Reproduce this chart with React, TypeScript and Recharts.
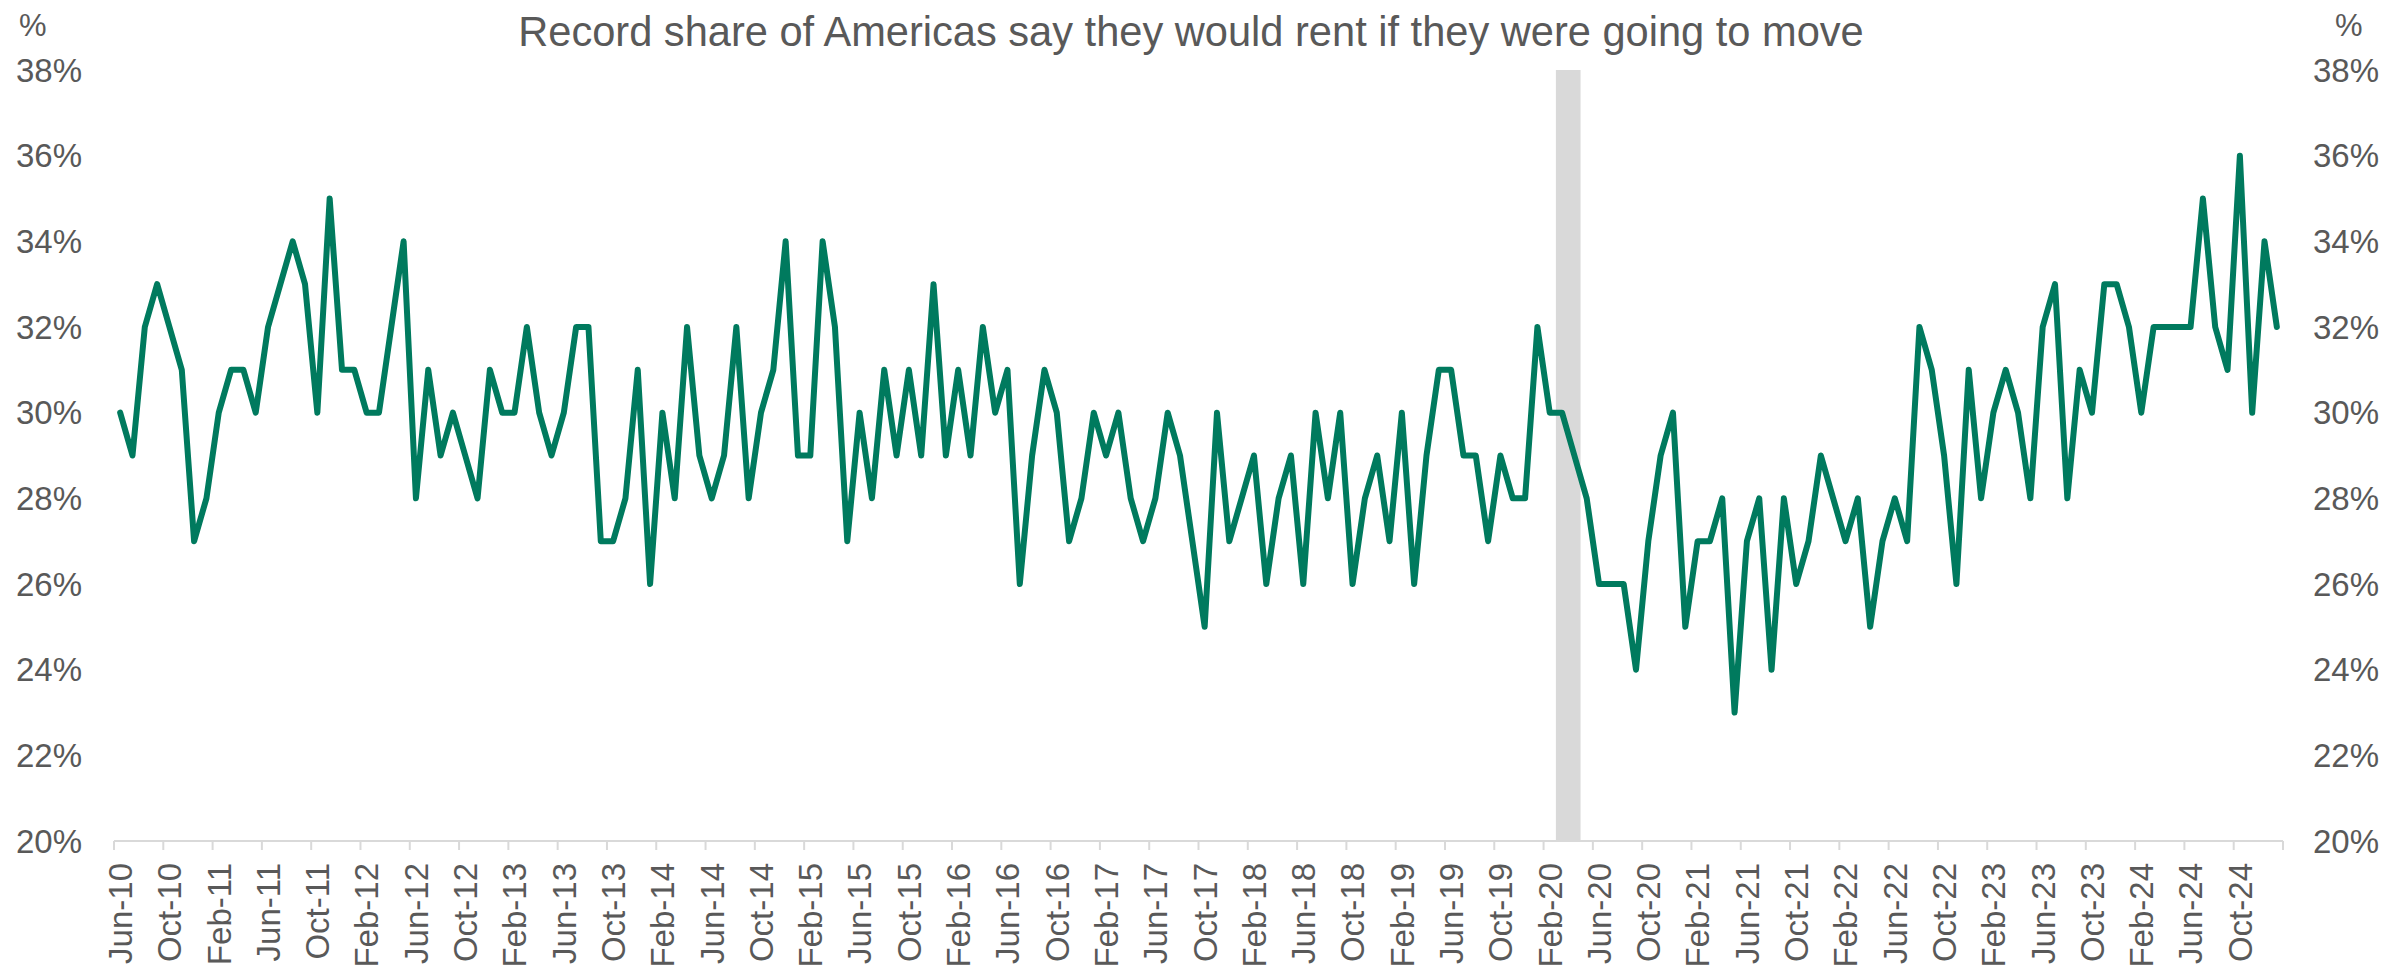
import React from "react";
import { LineChart, Line, XAxis, YAxis, ReferenceArea } from "recharts";

// survey share (%) saying they'd rent if moving, monthly
const MONTHS = ["Jan", "Feb", "Mar", "Apr", "May", "Jun", "Jul", "Aug", "Sep", "Oct", "Nov", "Dec"];

const y2010 = [30, 29, 32, 33, 32, 31, 27]; // Jun-Dec
const y2011 = [28, 30, 31, 31, 30, 32, 33, 34, 33, 30, 35, 31];
const y2012 = [31, 30, 30, 32, 34, 28, 31, 29, 30, 29, 28, 31];
const y2013 = [30, 30, 32, 30, 29, 30, 32, 32, 27, 27, 28, 31];
const y2014 = [26, 30, 28, 32, 29, 28, 29, 32, 28, 30, 31, 34];
const y2015 = [29, 29, 34, 32, 27, 30, 28, 31, 29, 31, 29, 33];
const y2016 = [29, 31, 29, 32, 30, 31, 26, 29, 31, 30, 27, 28];
const y2017 = [30, 29, 30, 28, 27, 28, 30, 29, 27, 25, 30, 27];
const y2018 = [28, 29, 26, 28, 29, 26, 30, 28, 30, 26, 28, 29];
const y2019 = [27, 30, 26, 29, 31, 31, 29, 29, 27, 29, 28, 28];
const y2020 = [32, 30, 30, 29, 28, 26, 26, 26, 24, 27, 29, 30];
const y2021 = [25, 27, 27, 28, 23, 27, 28, 24, 28, 26, 27, 29];
const y2022 = [28, 27, 28, 25, 27, 28, 27, 32, 31, 29, 26, 31];
const y2023 = [28, 30, 31, 30, 28, 32, 33, 28, 31, 30, 33, 33];
const y2024 = [32, 30, 32, 32, 32, 32, 35, 32, 31, 36, 30, 34];
const y2025 = [32]; // Jan

const years = [
  { year: 2010, first: 5, values: y2010 },
  { year: 2011, first: 0, values: y2011 },
  { year: 2012, first: 0, values: y2012 },
  { year: 2013, first: 0, values: y2013 },
  { year: 2014, first: 0, values: y2014 },
  { year: 2015, first: 0, values: y2015 },
  { year: 2016, first: 0, values: y2016 },
  { year: 2017, first: 0, values: y2017 },
  { year: 2018, first: 0, values: y2018 },
  { year: 2019, first: 0, values: y2019 },
  { year: 2020, first: 0, values: y2020 },
  { year: 2021, first: 0, values: y2021 },
  { year: 2022, first: 0, values: y2022 },
  { year: 2023, first: 0, values: y2023 },
  { year: 2024, first: 0, values: y2024 },
  { year: 2025, first: 0, values: y2025 },
];

const yTicks = [20, 22, 24, 26, 28, 30, 32, 34, 36, 38];
const recession = ["Mar-20", "Apr-20"];

// one row per month: running index, "Mon-yy" label, value
const rows = years.flatMap(({ year, first, values }) =>
  values.map((v, j) => ({ label: `${MONTHS[first + j]}-${String(year).slice(2)}`, share: v }))
).map((r, i) => ({ idx: i, ...r }));
const labels = rows.map((r) => r.label);

// a tick every 4 months, on the slot boundary, plus the axis end
const xTicks: number[] = [];
for (let i = 0; i <= rows.length; i += 4) xTicks.push(i - 0.5);
if (xTicks[xTicks.length - 1] !== rows.length - 0.5) xTicks.push(rows.length - 0.5);

const TEXT = "#595959";
const GREEN = "#007A5E";
const AXIS = "#D9D9D9";
const FONT = "'Liberation Sans', Arial, sans-serif";

function XTick({ x, y, payload }: any) {
  const label = labels[Math.round(payload.value + 0.5)] ?? "";
  return (
    <text
      transform={`translate(${x + 18},${y}) rotate(-90)`}
      textAnchor="end"
      fontSize={33}
      fontFamily={FONT}
      fill={TEXT}
    >
      {label}
    </text>
  );
}

export default function App() {
  const r0 = labels.indexOf(recession[0]);
  const r1 = labels.indexOf(recession[1]);
  return (
    <div style={{ position: "absolute", left: 0, top: 0, width: 2389, height: 970, background: "#fff" }}>
      <LineChart width={2389} height={970} data={rows} margin={{ top: 70, right: 0, bottom: 0, left: 0 }}>
        <XAxis
          dataKey="idx"
          type="number"
          domain={[-0.5, rows.length - 0.5]}
          allowDataOverflow
          ticks={xTicks}
          interval={0}
          height={129}
          axisLine={{ stroke: AXIS, strokeWidth: 2 }}
          tickLine={{ stroke: AXIS, strokeWidth: 2 }}
          tickSize={9}
          tickMargin={13}
          tick={<XTick />}
        />
        <YAxis
          yAxisId="left"
          domain={[20, 38]}
          allowDataOverflow
          ticks={yTicks}
          width={114}
          axisLine={false}
          tickLine={false}
          tickSize={0}
          tickMargin={32}
          tickFormatter={(v) => `${v}%`}
          tick={{ fontSize: 33, fill: TEXT, fontFamily: FONT }}
        />
        <YAxis
          yAxisId="right"
          orientation="right"
          domain={[20, 38]}
          allowDataOverflow
          ticks={yTicks}
          width={106}
          axisLine={false}
          tickLine={false}
          tickSize={0}
          tickMargin={30}
          tickFormatter={(v) => `${v}%`}
          tick={{ fontSize: 33, fill: TEXT, fontFamily: FONT }}
        />
        <ReferenceArea
          yAxisId="right"
          x1={r0 - 0.5}
          x2={r1 + 0.5}
          y1={20}
          y2={38}
          fill={AXIS}
          fillOpacity={1}
          stroke="none"
        />
        <Line
          yAxisId="left"
          type="linear"
          dataKey="share"
          stroke={GREEN}
          strokeWidth={6}
          strokeLinejoin="round"
          strokeLinecap="round"
          dot={false}
          activeDot={false}
          isAnimationActive={false}
        />
      </LineChart>
      <svg
        width={2389}
        height={970}
        style={{ position: "absolute", left: 0, top: 0, pointerEvents: "none" }}
        fontFamily={FONT}
        fill={TEXT}
      >
        <text x={1191} y={46} textAnchor="middle" fontSize={41.6}>
          Record share of Americas say they would rent if they were going to move
        </text>
        <text x={19} y={36} fontSize={31}>%</text>
        <text x={2335} y={36} fontSize={31}>%</text>
      </svg>
    </div>
  );
}
